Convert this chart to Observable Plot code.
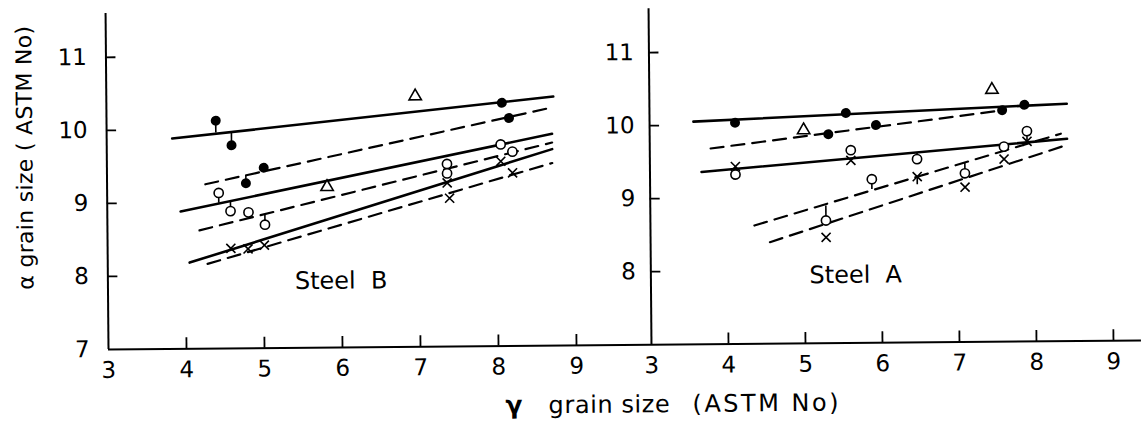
<!DOCTYPE html>
<html><head><meta charset="utf-8">
<script src="https://cdn.jsdelivr.net/npm/d3@7"></script>
<script src="https://cdn.jsdelivr.net/npm/@observablehq/plot@0.6"></script>
<style>
html,body{margin:0;padding:0;background:#fff;}
#chart{position:relative;width:1141px;height:423px;transform:rotate(-0.5deg);transform-origin:108px 349px;font-family:"DejaVu Sans",sans-serif;color:#000;}
#chart svg{position:absolute;top:0;}
.t{position:absolute;white-space:pre;line-height:1;font-family:"DejaVu Sans",sans-serif;}
</style></head><body><div id="chart"></div>
<script>
// ---- axes ----
const xTickLabels = [3,4,5,6,7,8,9];
const xTickMarks = [4,5,6,7,8,9];
const yTickLabelsB = [7,8,9,10,11];
const yTickLabelsA = [8,9,10,11];
const yTickMarks = [8,9,10,11];

// ---- Steel B (left panel) ----
const bFilled = [[4.40,10.12],[4.60,9.78],[5.01,9.47],[4.78,9.26],[8.07,10.33],[8.16,10.12]];
const bOpen = [[4.43,9.13],[4.58,8.88],[4.81,8.86],[5.02,8.69],[7.36,9.50],[7.36,9.37],[8.05,9.76],[8.20,9.66]];
const bCross = [[4.58,8.37],[4.80,8.36],[5.01,8.41],[7.36,9.24],[7.39,9.03],[8.05,9.53],[8.20,9.37]];
const bTriangle = [[6.96,10.43],[5.82,9.20]];
const bSolid = [
  [[3.84,9.88],[8.73,10.41]],
  [[3.94,8.88],[8.71,9.90]],
  [[4.05,8.18],[8.71,9.69]]
];
const bDashed = [
  [[4.26,9.25],[8.71,10.26]],
  [[4.18,8.62],[8.71,9.78]],
  [[4.28,8.16],[8.71,9.50]]
];
const bTails = [[4.40,10.12,9.95],[4.60,9.78,9.97],[4.78,9.26,9.37],[4.43,9.13,8.99],[4.58,8.88,9.02],[4.81,8.86,8.78],[5.02,8.69,8.83]];
const bLabel = [{x: 5.99, y: 7.91, text: "Steel\u00a0\u00a0B"}];

// ---- Steel A (right panel) ----
const aFilled = [[4.11,10.03],[5.55,10.15],[5.32,9.86],[5.94,9.98],[7.58,10.17],[7.87,10.24]];
const aOpen = [[4.11,9.32],[5.61,9.64],[6.47,9.51],[5.88,9.24],[5.28,8.68],[7.09,9.31],[7.60,9.67],[7.90,9.88]];
const aCross = [[4.11,9.43],[5.61,9.50],[6.47,9.27],[5.28,8.45],[7.09,9.12],[7.60,9.50],[7.90,9.74]];
const aTriangle = [[7.45,10.45],[5.00,9.92]];
const aSolid = [
  [[3.57,10.05],[8.42,10.25]],
  [[3.67,9.36],[8.42,9.77]]
];
const aDashed = [
  [[3.79,9.68],[7.53,10.16]],
  [[4.35,8.62],[8.34,9.84]],
  [[4.55,8.39],[8.40,9.68]]
];
const aTails = [[5.28,8.68,8.88],[5.88,9.24,9.10],[6.47,9.51,9.60],[7.09,9.31,9.45],[6.47,9.27,9.16],[4.11,9.32,9.43],[7.90,9.88,9.74]];
const aLabel = [{x: 5.66, y: 7.93, text: "Steel\u00a0\u00a0A"}];

const H = 423, MT = 13, MB = 74, Y0 = 7, Y1 = 11.6;

function panel({width, marginLeft, xMax, yLabels, yPad, solid, dashed, filled, open, cross, tri, tails, label}) {
  const pxX = (width - marginLeft) / (xMax - 3);
  const pxY = (H - MT - MB) / (Y1 - Y0);
  return Plot.plot({
    width, height: H, marginLeft, marginRight: 0, marginTop: MT, marginBottom: MB,
    style: {fontFamily: "DejaVu Sans", fontSize: "23px", color: "#000", background: "transparent", overflow: "visible"},
    x: {domain: [3, xMax], ticks: xTickLabels, tickFormat: d => String(d), tickSize: 0, tickPadding: 12, label: null},
    y: {domain: [Y0, Y1], ticks: yLabels, tickFormat: d => String(d), tickSize: 0, tickPadding: yPad, label: null},
    marks: [
      Plot.ruleX([3], {stroke: "#000", strokeWidth: 2}),
      Plot.ruleY([7], {stroke: "#000", strokeWidth: 2}),
      Plot.ruleX(xTickMarks, {x: d => d, y1: 7, y2: 7 + 11 / pxY, stroke: "#000", strokeWidth: 1.8}),
      Plot.ruleY(yTickMarks, {y: d => d, x1: 3, x2: 3 + 10 / pxX, stroke: "#000", strokeWidth: 1.8}),
      ...solid.map(l => Plot.line(l, {stroke: "#000", strokeWidth: 2.6})),
      ...dashed.map(l => Plot.line(l, {stroke: "#000", strokeWidth: 2.2, strokeDasharray: "13,8"})),
      Plot.ruleX(tails, {x: d => d[0], y1: d => d[1], y2: d => d[2], stroke: "#000", strokeWidth: 1.6}),
      Plot.dot(filled, {r: 5, fill: "#000", stroke: "none"}),
      Plot.dot(open, {r: 4.6, fill: "#fff", stroke: "#000", strokeWidth: 1.6}),
      Plot.dot(cross, {symbol: "times", r: 4.2, fill: "none", stroke: "#000", strokeWidth: 1.6}),
      Plot.dot(tri, {symbol: "triangle", r: 4.6, fill: "#fff", stroke: "#000", strokeWidth: 1.6}),
      Plot.text(label, {x: "x", y: "y", text: "text", fontSize: 24, textAnchor: "middle", lineAnchor: "middle", fill: "#000"})
    ]
  });
}

const chart = document.getElementById("chart");
const left = panel({width: 651, marginLeft: 108, xMax: 3 + (651 - 108) / 78, yLabels: yTickLabelsB, yPad: 19,
  solid: bSolid, dashed: bDashed, filled: bFilled, open: bOpen, cross: bCross, tri: bTriangle, tails: bTails, label: bLabel});
left.style.left = "0px";
chart.appendChild(left);
const right = panel({width: 581, marginLeft: 91, xMax: 3 + (581 - 91) / 77, yLabels: yTickLabelsA, yPad: 15,
  solid: aSolid, dashed: aDashed, filled: aFilled, open: aOpen, cross: aCross, tri: aTriangle, tails: aTails, label: aLabel});
right.style.left = "560px";
chart.appendChild(right);

// axis titles
function addText(txt, css) {
  const d = document.createElement("div");
  d.className = "t";
  d.textContent = txt;
  Object.assign(d.style, css);
  chart.appendChild(d);
  return d;
}
addText("\u03b1 grain size ( ASTM No)", {left: "27px", top: "157px", fontSize: "22px", transform: "translate(-50%,-50%) rotate(-90deg)", letterSpacing: "0.3px"});
addText("\u03b3", {left: "505px", top: "396px", fontSize: "25px", fontWeight: "bold"});
addText("grain size", {left: "548px", top: "397px", fontSize: "24px", letterSpacing: "0.6px"});
addText("(ASTM No)", {left: "692px", top: "397px", fontSize: "24px", letterSpacing: "2.5px"});
</script></body></html>
